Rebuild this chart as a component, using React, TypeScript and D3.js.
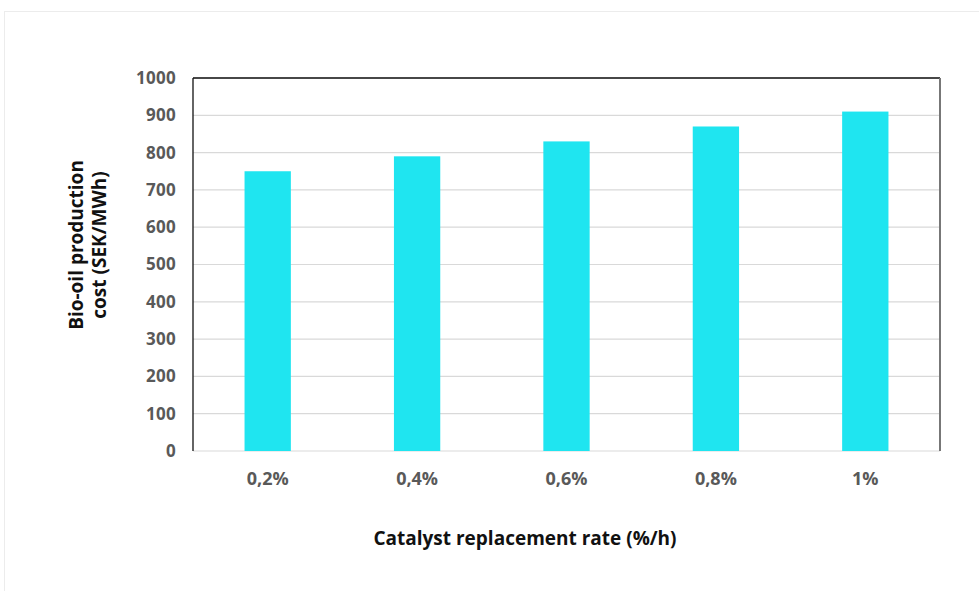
import React from "react";
import * as d3 from "d3";

const categories = ["0,2%", "0,4%", "0,6%", "0,8%", "1%"];
const costs = [750, 790, 830, 870, 910];
const yTicks = [0, 100, 200, 300, 400, 500, 600, 700, 800, 900, 1000];

const W = 979;
const H = 591;
const plot = { left: 193, right: 940, top: 78, bottom: 451 };
const font = "'Open Sans', 'Noto Sans', sans-serif";

export default function App() {
  const x = d3
    .scaleBand<string>()
    .domain(categories)
    .range([plot.left, plot.right])
    .paddingInner(0.69)
    .paddingOuter(0.345);
  const y = d3.scaleLinear().domain([0, 1000]).range([plot.bottom, plot.top]);

  return (
    <svg
      width={W}
      height={H}
      style={{ position: "absolute", left: 0, top: 0, background: "#fff" }}
    >
      <rect x={4.5} y={11.5} width={W} height={H} fill="#fff" stroke="#ececec" />
      {/* gridlines */}
      {yTicks.map((t) => (
        <line
          key={t}
          x1={plot.left}
          x2={plot.right}
          y1={y(t)}
          y2={y(t)}
          stroke="#d9d9d9"
          strokeWidth={1.2}
        />
      ))}
      {/* bars */}
      {categories.map((c, i) => (
        <rect
          key={c}
          x={x(c)}
          y={y(costs[i])}
          width={x.bandwidth()}
          height={y(0) - y(costs[i])}
          fill="#1fe5f0"
        />
      ))}
      {/* plot frame */}
      <line x1={plot.left} x2={plot.right} y1={plot.top} y2={plot.top} stroke="#111" strokeWidth={1.3} />
      <line x1={plot.left} x2={plot.left} y1={plot.top} y2={plot.bottom} stroke="#111" strokeWidth={1.3} />
      <line x1={plot.right} x2={plot.right} y1={plot.top} y2={plot.bottom} stroke="#777" strokeWidth={2} />
      {/* y tick labels */}
      {yTicks.map((t) => (
        <text
          key={t}
          x={176}
          y={y(t)}
          dy="0.35em"
          textAnchor="end"
          fontFamily={font}
          fontWeight={700}
          fontSize={17}
          letterSpacing={0.3}
          fill="#595959"
        >
          {t}
        </text>
      ))}
      {/* x tick labels */}
      {categories.map((c) => (
        <text
          key={c}
          x={(x(c) as number) + x.bandwidth() / 2}
          y={485}
          textAnchor="middle"
          fontFamily={font}
          fontWeight={700}
          fontSize={18}
          fill="#595959"
        >
          {c}
        </text>
      ))}
      {/* axis titles */}
      <text
        transform="translate(80,245) rotate(-90)"
        textAnchor="middle"
        fontFamily={font}
        fontWeight={700}
        fontSize={19}
        fill="#111"
      >
        <tspan x={0} dy={3}>Bio-oil production</tspan>
        <tspan x={0} dy={23}>cost (SEK/MWh)</tspan>
      </text>
      <text
        x={525}
        y={545}
        textAnchor="middle"
        fontFamily={font}
        fontWeight={700}
        fontSize={19}
        fill="#111"
      >
        Catalyst replacement rate (%/h)
      </text>
    </svg>
  );
}
